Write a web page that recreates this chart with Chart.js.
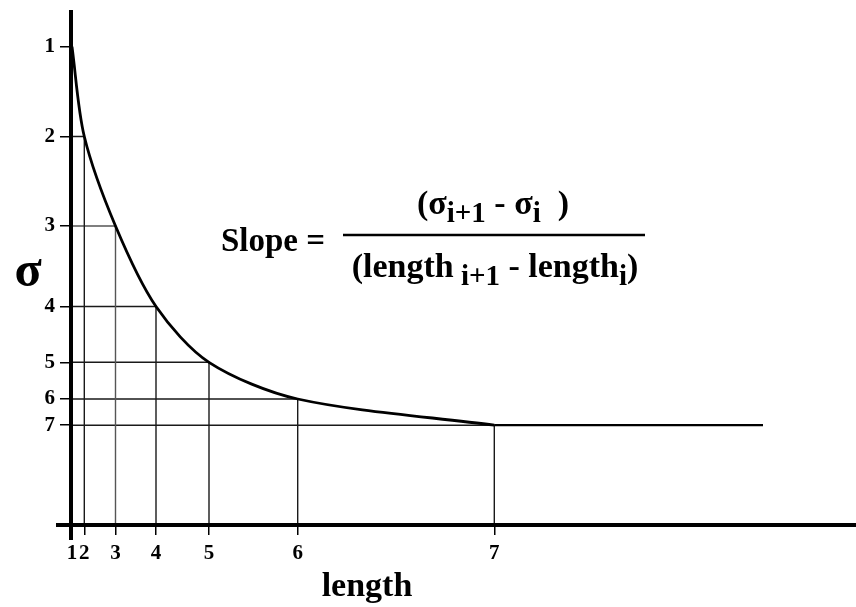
<!DOCTYPE html>
<html lang="en">
<head>
    <meta charset="UTF-8">
    <title>Slope of sigma vs length</title>
    <script src="https://cdn.jsdelivr.net/npm/chart.js"></script>
    <style>
        body {
            margin: 0;
            background: #fff;
        }
        canvas {
            display: block;
        }
    </style>
</head>
<body>

    <canvas id="chart" width="856" height="607"></canvas>

    <script>
        // tick labels
        var lengthLabels = ['1', '2', '3', '4', '5', '6', '7'];
        var sigmaLabels = ['1', '2', '3', '4', '5', '6', '7'];

        // where each step sits (arbitrary units)
        var lengthValues = [0.01, 0.133, 0.445, 0.85, 1.38, 2.267, 4.233];
        var sigmaValues = [4.783, 3.885, 2.99, 2.185, 1.627, 1.26, 0.998];

        // flat tail after the last step
        var tailLength = [4.233, 6.92];
        var tailSigma = [0.998, 0.998];

        var xMax = 7.85;
        var yMax = 5.15;

        var serif = "'Liberation Serif', 'Times New Roman', serif";

        // curve through all the steps
        var curvePoints = [];
        for (var i = 0; i < lengthValues.length; i++) {
            curvePoints.push({ x: lengthValues[i], y: sigmaValues[i] });
        }
        var tailPoints = tailLength.map(function (v, k) { return { x: v, y: tailSigma[k] }; });

        // drop lines from each step down to the axes
        var guideSets = [];
        for (var j = 1; j < lengthValues.length; j++) {
            guideSets.push({
                data: [{ x: lengthValues[j], y: 0 }, { x: lengthValues[j], y: sigmaValues[j] }, { x: 0, y: sigmaValues[j] }],
                borderColor: j === 2 ? '#555' : '#1a1a1a',
                borderWidth: 1.4,
                pointRadius: 0,
                fill: false,
                tension: 0,
                order: 2
            });
        }

        var curveSet = {
            data: curvePoints,
            borderColor: '#000',
            borderWidth: 2.8,
            pointRadius: 0,
            fill: false,
            tension: 0.3,
            order: 0
        };

        var tailSet = {
            data: tailPoints,
            borderColor: '#000',
            borderWidth: 2.2,
            pointRadius: 0,
            fill: false,
            tension: 0,
            order: 1
        };

        // draws the heavy axes, the sigma / length labels and the slope formula
        var sketchPlugin = {
            id: 'sketch',
            afterDraw: function (chart) {
                var ctx = chart.ctx;
                var xs = chart.scales.x;
                var ys = chart.scales.y;
                var x0 = xs.getPixelForValue(0);
                var y0 = ys.getPixelForValue(0);

                ctx.save();
                ctx.strokeStyle = '#000';
                ctx.lineWidth = 4;
                ctx.beginPath();
                ctx.moveTo(x0, chart.chartArea.top);
                ctx.lineTo(x0, y0 + 15);
                ctx.moveTo(x0 - 15, y0);
                ctx.lineTo(chart.chartArea.right, y0);
                ctx.stroke();

                ctx.fillStyle = '#000';
                ctx.textAlign = 'center';
                ctx.textBaseline = 'alphabetic';
                ctx.font = 'bold 50px ' + serif;
                ctx.fillText('σ', 28, 286);

                ctx.font = 'bold 34px ' + serif;
                ctx.fillText('length', 367, 596);

                // formula
                ctx.textAlign = 'left';
                ctx.font = 'bold 33px ' + serif;
                ctx.fillText('Slope =', 221, 251);

                ctx.lineWidth = 2.5;
                ctx.beginPath();
                ctx.moveTo(343, 235);
                ctx.lineTo(645, 235);
                ctx.stroke();

                drawRuns(ctx, [['(σ', false], ['i+1', true], [' - σ', false], ['i', true], ['  )', false]], 493, 214);
                drawRuns(ctx, [['(length', false], [' i+1', true], [' - length', false], ['i', true], [')', false]], 495, 277);
                ctx.restore();
            }
        };

        function drawRuns(ctx, runs, cx, baseline) {
            var total = 0;
            for (var k = 0; k < runs.length; k++) {
                ctx.font = 'bold ' + (runs[k][1] ? '29px ' : '34px ') + serif;
                total += ctx.measureText(runs[k][0]).width;
            }
            var x = cx - total / 2;
            for (var m = 0; m < runs.length; m++) {
                ctx.font = 'bold ' + (runs[m][1] ? '29px ' : '34px ') + serif;
                ctx.fillText(runs[m][0], x, baseline + (runs[m][1] ? 8 : 0));
                x += ctx.measureText(runs[m][0]).width;
            }
        }

        function noPadding(scale) {
            scale.paddingTop = 0;
            scale.paddingBottom = 0;
            scale.paddingLeft = 0;
            scale.paddingRight = 0;
        }

        var ctx = document.getElementById('chart').getContext('2d');

        new Chart(ctx, {
            type: 'line',
            data: {
                datasets: [curveSet, tailSet].concat(guideSets)
            },
            options: {
                responsive: false,
                animation: false,
                events: [],
                layout: {
                    padding: { top: 10, right: 0, left: 0, bottom: 0 }
                },
                plugins: {
                    legend: { display: false },
                    tooltip: { enabled: false }
                },
                scales: {
                    x: {
                        type: 'linear',
                        min: 0,
                        max: xMax,
                        border: { display: false },
                        grid: {
                            drawOnChartArea: false,
                            drawTicks: true,
                            tickLength: 10,
                            color: '#000',
                            lineWidth: 1.5
                        },
                        afterBuildTicks: function (scale) {
                            scale.ticks = lengthValues.map(function (v) { return { value: v }; });
                        },
                        afterFit: function (scale) {
                            scale.height = 82;
                            noPadding(scale);
                        },
                        ticks: {
                            padding: 6,
                            maxRotation: 0,
                            autoSkip: false,
                            color: '#000',
                            font: { family: serif, size: 21, weight: 'bold' },
                            callback: function (value, index) {
                                return lengthLabels[index];
                            }
                        }
                    },
                    y: {
                        type: 'linear',
                        min: 0,
                        max: yMax,
                        border: { display: false },
                        grid: {
                            drawOnChartArea: false,
                            drawTicks: true,
                            tickLength: 11,
                            color: '#000',
                            lineWidth: 1.5
                        },
                        afterBuildTicks: function (scale) {
                            scale.ticks = sigmaValues.map(function (v) { return { value: v }; });
                        },
                        afterFit: function (scale) {
                            scale.width = 71;
                            noPadding(scale);
                        },
                        ticks: {
                            padding: 5,
                            autoSkip: false,
                            color: '#000',
                            font: { family: serif, size: 21, weight: 'bold' },
                            callback: function (value, index) {
                                return sigmaLabels[index];
                            }
                        }
                    }
                }
            },
            plugins: [sketchPlugin]
        });
    </script>

</body>
</html>
